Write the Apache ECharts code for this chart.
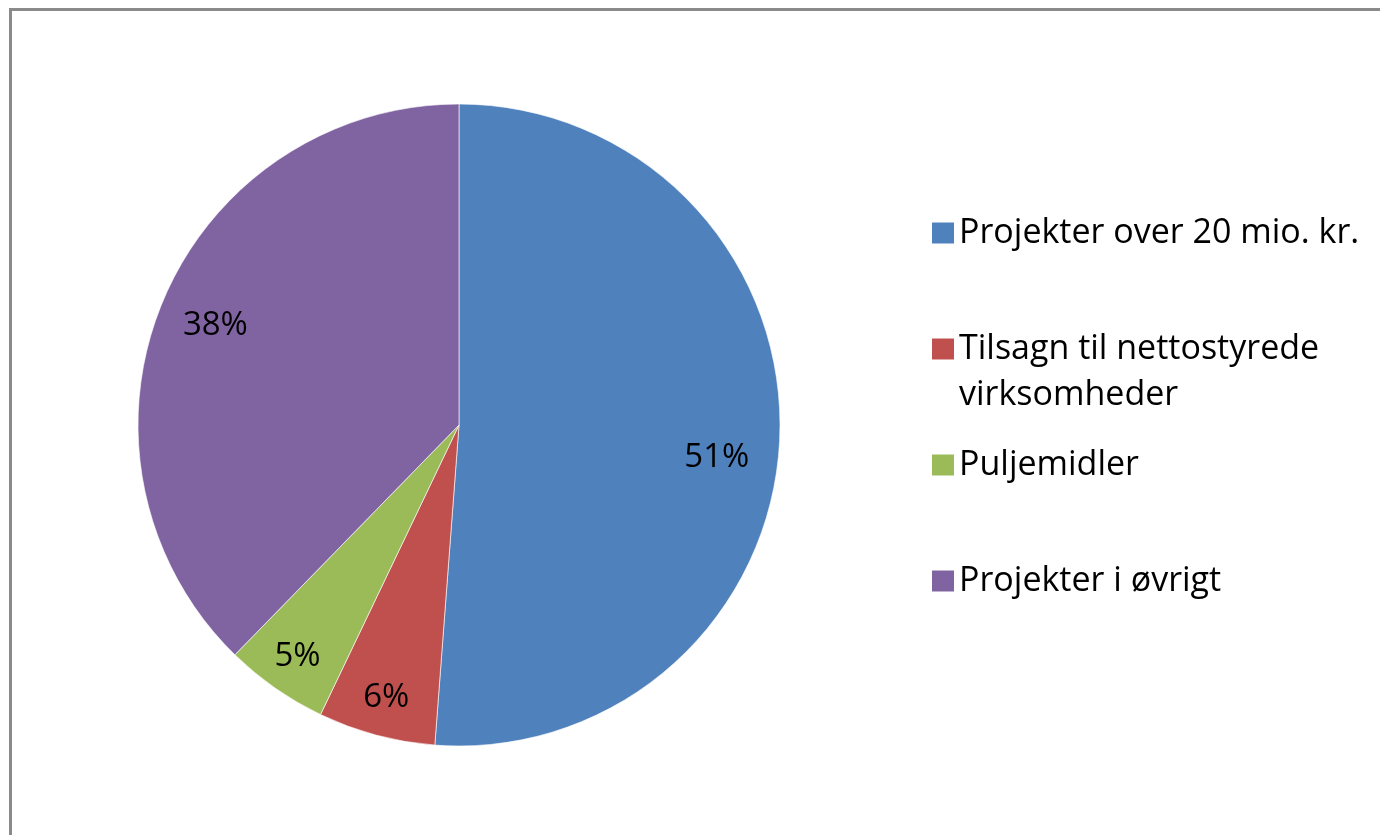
<!DOCTYPE html>
<html>
<head>
<meta charset="utf-8">
<script src="https://cdn.jsdelivr.net/npm/echarts@6/dist/echarts.min.js"></script>
<style>
  html, body { margin: 0; padding: 0; background: #fff; overflow: hidden; }
  #frame { position: absolute; left: 9px; top: 8px; width: 1500px; height: 1000px; border: 3px solid #8a8a8a; box-sizing: border-box; }
  #chart { position: absolute; left: 0; top: 0; width: 1380px; height: 835px; }
</style>
</head>
<body>
<div id="frame"></div>
<div id="chart"></div>
<script>
const categories = ['Projekter over 20 mio. kr.', 'Tilsagn til nettostyrede\nvirksomheder', 'Puljemidler', 'Projekter i øvrigt'];
const shares = [51.2, 5.9, 5.2, 37.7];
const colors = ['#4F81BD', '#C0504D', '#9BBB59', '#8064A2'];

const FONT = 'Open Sans';
const FS = 34;
const center = [459, 425];
const R = 321;

const baseData = categories.map((c, i) => ({ name: c, value: shares[i], itemStyle: { color: colors[i] } }));

function labelData(showIdx) {
  return categories.map((c, i) => ({
    name: c, value: shares[i],
    label: { show: showIdx.indexOf(i) >= 0 }
  }));
}

const labelStyle = {
  position: 'inside',
  formatter: p => Math.round(p.value) + '%',
  fontFamily: FONT, fontSize: 33, color: '#000'
};

function legendAt(i, top, extra) {
  return Object.assign({
    data: [categories[i]],
    left: 927, top: top,
    orient: 'vertical',
    itemWidth: 22, itemHeight: 21, itemGap: 0,
    icon: 'rect',
    selectedMode: false,
    itemStyle: { borderWidth: 0 },
    textStyle: { fontFamily: FONT, fontSize: FS, color: '#000', lineHeight: 46 }
  }, extra || {});
}

const chart = echarts.init(document.getElementById('chart'), null, { renderer: 'canvas' });
chart.setOption({
  animation: false,
  backgroundColor: 'transparent',
  legend: [
    legendAt(0, 205),
    legendAt(1, 275, { formatter: n => ' \n' + n }),
    legendAt(2, 437),
    legendAt(3, 553)
  ],
  series: [
    {
      type: 'pie', center: center, radius: [0, R], startAngle: 90, clockwise: true,
      label: { show: false }, labelLine: { show: false },
      itemStyle: { borderColor: 'rgba(255,255,255,0.6)', borderWidth: 1 },
      emphasis: { disabled: true },
      data: baseData
    },
    {
      type: 'pie', center: center, radius: [199, R], startAngle: 90, clockwise: true, silent: true,
      itemStyle: { color: 'rgba(0,0,0,0)' }, legendHoverLink: false,
      label: labelStyle, labelLine: { show: false },
      labelLayout: p => (p.dataIndex === 0 ? { dy: 23, dx: -5 } : {}),
      emphasis: { disabled: true },
      data: labelData([0, 3])
    },
    {
      type: 'pie', center: center, radius: [237, R], startAngle: 90, clockwise: true, silent: true,
      itemStyle: { color: 'rgba(0,0,0,0)' }, legendHoverLink: false,
      label: labelStyle, labelLine: { show: false },
      emphasis: { disabled: true },
      data: labelData([1, 2])
    }
  ]
});
</script>
</body>
</html>
